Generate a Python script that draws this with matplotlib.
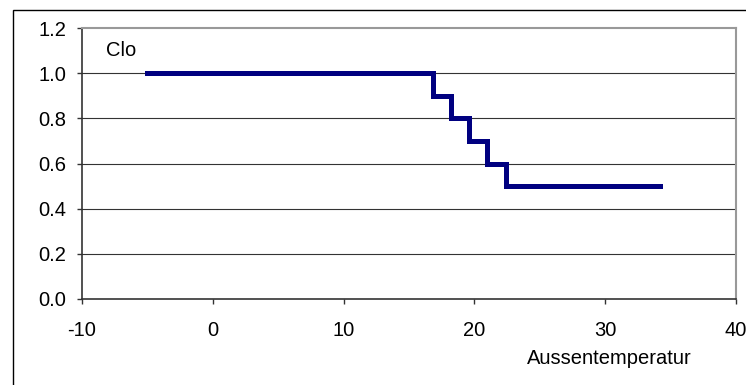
import matplotlib
matplotlib.use("Agg")
import matplotlib.pyplot as plt
from matplotlib.patches import Rectangle

plt.rcParams['font.family'] = ['Liberation Sans', 'DejaVu Sans']

# Clothing insulation (clo) as a step function of outdoor temperature
temps = [-5.0, 16.8, 18.2, 19.6, 21.0, 22.4, 34.2]
clo = [1.0, 0.9, 0.8, 0.7, 0.6, 0.5, 0.5]
x_ticks = [-10, 0, 10, 20, 30, 40]
y_ticks = [0.0, 0.2, 0.4, 0.6, 0.8, 1.0, 1.2]

W, H = 746, 385
FS = 14.5
fig = plt.figure(figsize=(W / 100, H / 100), dpi=100)

# outer chart frame (open on the right and bottom)
fig.patches.append(Rectangle((13 / W, -0.05), 1.1, (H - 10) / H + 0.05,
                             transform=fig.transFigure, fill=False,
                             edgecolor='black', linewidth=1.0))

ax = fig.add_axes([82 / W, (H - 299) / H, (736 - 82) / W, (299 - 28) / H])
ax.set_xlim(-10, 40)
ax.set_ylim(0, 1.2)

for y in y_ticks[1:-1]:
    ax.axhline(y, color='#333333', linewidth=0.8, zorder=1)

ax.plot(temps, clo, drawstyle='steps-post', color='#000080',
        linewidth=3.6, solid_joinstyle='miter', zorder=3)

ax.set_xticks(x_ticks)
ax.set_yticks(y_ticks)
ax.set_yticklabels([f"{v:.1f}" for v in y_ticks])
ax.set_xticklabels([str(v) for v in x_ticks])
ax.tick_params(axis='both', labelsize=FS, color='#333333', length=3.5,
               width=1.0, direction='out')
ax.tick_params(axis='x', pad=12.5)
ax.tick_params(axis='y', pad=8)

for side in ['left', 'bottom']:
    ax.spines[side].set_color('#333333')
    ax.spines[side].set_linewidth(1.2)
for side in ['top', 'right']:
    ax.spines[side].set_color('#999999')
    ax.spines[side].set_linewidth(1.5)

fig.text(106 / W, 1 - 50 / H, 'Clo', fontsize=FS, va='center', ha='left')
fig.text(609 / W, 1 - 358 / H, 'Aussentemperatur', fontsize=FS,
         ha='center', va='center')

fig.savefig('out.png', dpi=100)
